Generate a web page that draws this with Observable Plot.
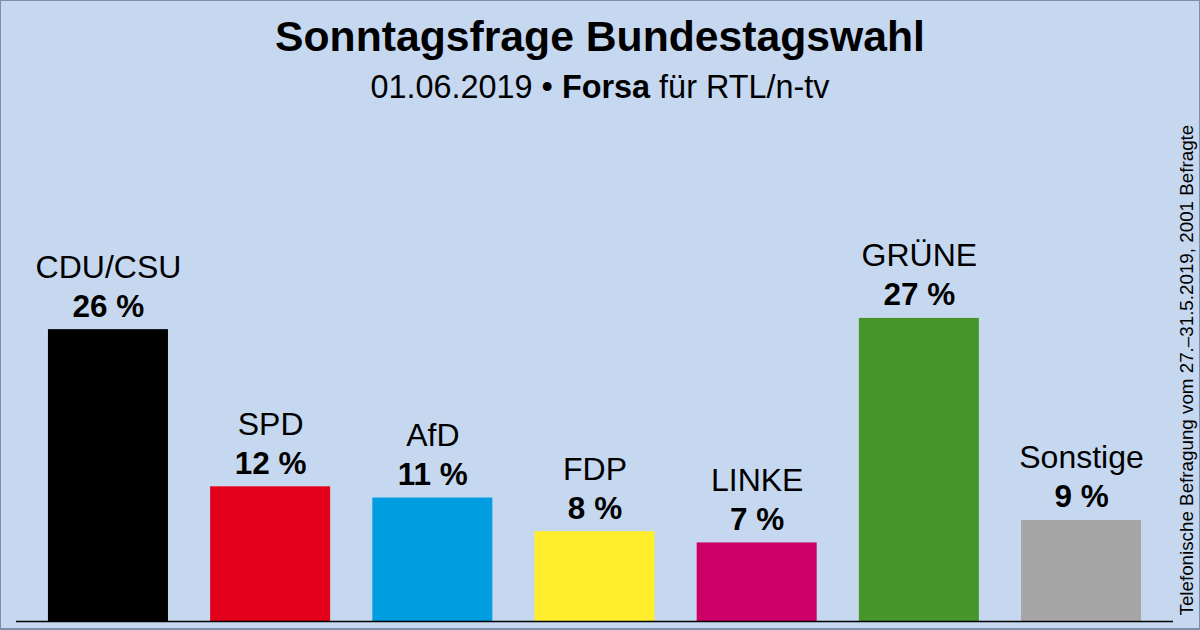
<!DOCTYPE html>
<html>
<head>
<meta charset="utf-8">
<script src="https://cdn.jsdelivr.net/npm/d3@7"></script>
<script src="https://cdn.jsdelivr.net/npm/@observablehq/plot@0.6"></script>
<style>
  html, body { margin: 0; padding: 0; }
  body {
    width: 1200px; height: 630px; overflow: hidden; position: relative;
    background: #c6d8f0; color: #000;
    font-family: "Liberation Sans", Arial, sans-serif;
    box-shadow: inset 1px 1px 0 #7f8ea6, inset -1px -2px 0 #7f8ea6;
  }
  h1 { margin: 0; height: 66px; padding-top: 8px; box-sizing: border-box; line-height: 56px; font-size: 42.7px; font-weight: bold; text-align: center; }
  .sub { height: 44px; line-height: 42px; font-size: 32.4px; text-align: center; }
  svg { display: block; background: transparent; }
</style>
</head>
<body>
<h1>Sonntagsfrage Bundestagswahl</h1>
<div class="sub">01.06.2019 • <b>Forsa</b> für RTL/n-tv</div>
<div id="chart"></div>
<script>
const parties = ["CDU/CSU", "SPD", "AfD", "FDP", "LINKE", "GRÜNE", "Sonstige"];
const shares = [26, 12, 11, 8, 7, 27, 9];
const partyColors = ["#000000", "#e2001a", "#009ee0", "#ffed2e", "#cc0066", "#46962b", "#a6a6a6"];
const source = "Telefonische Befragung vom 27.–31.5.2019, 2001 Befragte";

const data = parties.map((party, i) => ({party, share: shares[i]}));

const chart = Plot.plot({
  width: 1200,
  height: 520,
  marginLeft: 16,
  marginRight: 27,
  marginTop: 62,
  marginBottom: 9,
  style: {background: "transparent", color: "#000", fontFamily: "'Liberation Sans', Arial, sans-serif"},
  x: {domain: parties, paddingInner: 0.26, paddingOuter: 0.197, round: false, axis: null},
  y: {domain: [0, 40], axis: null},
  color: {domain: parties, range: partyColors},
  marks: [
    Plot.barY(data, {x: "party", y: "share", fill: "party"}),
    Plot.ruleY([0], {stroke: "#000", strokeWidth: 1.5}),
    Plot.text(data, {x: "party", y: "share", text: "party", fontSize: 32, lineAnchor: "bottom", dy: -52}),
    Plot.text(data, {x: "party", y: "share", text: d => `${d.share} %`, fontSize: 31.5, fontWeight: "bold", lineAnchor: "bottom", dy: -13}),
    Plot.text([source], {frameAnchor: "bottom-right", rotate: -90, textAnchor: "start", fontSize: 18.8, dx: 19, dy: -6})
  ]
});

d3.select("#chart").append(() => chart);
</script>
</body>
</html>
